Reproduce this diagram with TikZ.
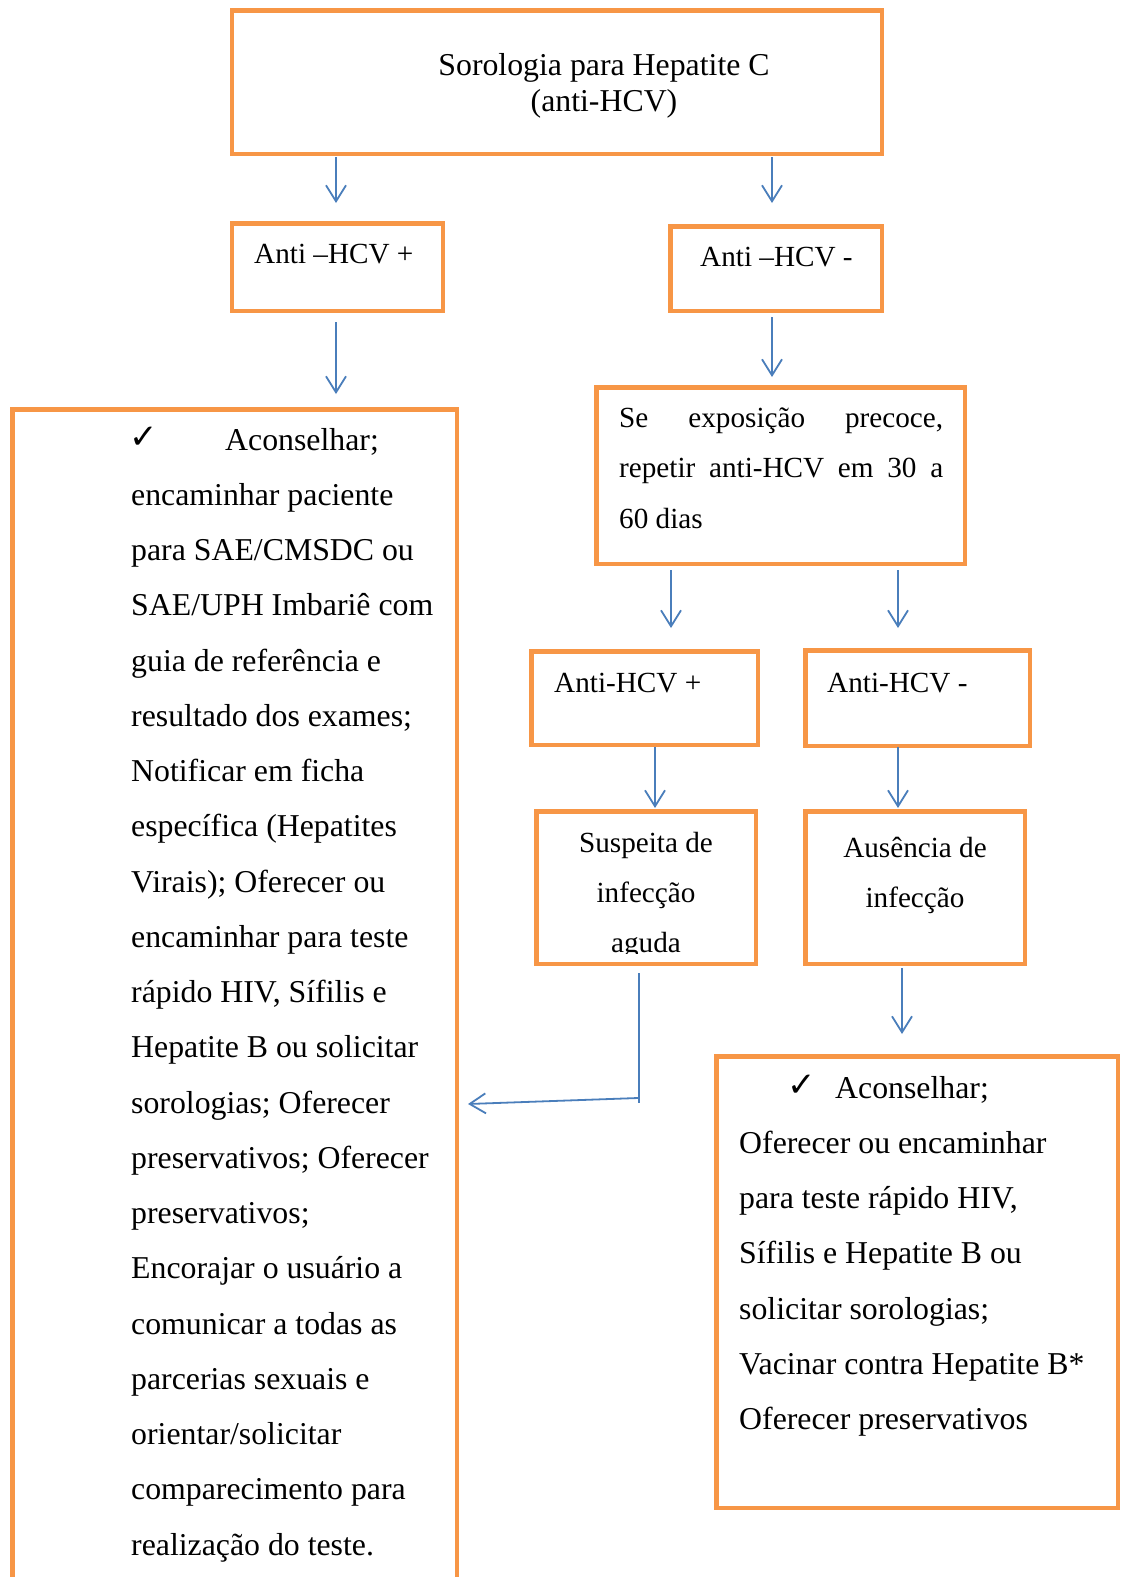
\documentclass[tikz,border=0pt]{standalone}
\usepackage{fontspec}
\setmainfont{Liberation Serif}
\newfontfamily\checkfont{DejaVu Sans}
\usetikzlibrary{arrows.meta}
\definecolor{boxorange}{RGB}{247,150,70}
\definecolor{arrowblue}{RGB}{74,126,187}

\begin{document}
\begin{tikzpicture}[x=1pt,y=-1pt,
  box/.style={draw=boxorange, line width=4.5pt, rectangle, inner sep=0pt, outer sep=0pt},
  txt/.style={anchor=base west, inner sep=0pt, font=\fontsize{31.8}{38}\selectfont},
  ctxt/.style={anchor=base, inner sep=0pt, font=\fontsize{31.8}{38}\selectfont},
  stxt/.style={anchor=base west, inner sep=0pt, font=\fontsize{29.2}{35}\selectfont},
  sctxt/.style={anchor=base, inner sep=0pt, font=\fontsize{29.2}{35}\selectfont},
  chk/.style={anchor=base west, inner sep=0pt, font=\checkfont\fontsize{34}{40}\selectfont},
  arr/.style={draw=arrowblue, line width=1.8pt, -{Straight Barb[length=16pt,width=20pt]}},
  link/.style={draw=arrowblue, line width=1.3pt},
]
\useasboundingbox (0,0) rectangle (1120,1577);
\clip (0,0) rectangle (1120,1577);
\fill[white] (0,0) rectangle (1120,1577);

% boxes
\node[box, minimum width=650pt, minimum height=143.5pt] (top) at (556.75,82) {};
\node[box, minimum width=211pt, minimum height=87.5pt] (pos) at (337.25,267) {};
\node[box, minimum width=211.5pt, minimum height=84.5pt] (neg) at (776,268.5) {};
\node[box, minimum width=444.5pt, minimum height=1210pt] (left) at (234.5,1014.25) {};
\node[box, minimum width=368.5pt, minimum height=176.5pt] (expo) at (780.5,475.5) {};
\node[box, minimum width=226.5pt, minimum height=93.5pt] (pos2) at (644.5,698) {};
\node[box, minimum width=224.5pt, minimum height=95.5pt] (neg2) at (917.5,698) {};
\node[box, minimum width=219.5pt, minimum height=152.5pt] (acute) at (646,887.5) {};
\node[box, minimum width=219.5pt, minimum height=152.5pt] (none) at (915,887.5) {};
\node[box, minimum width=401.5pt, minimum height=451.5pt] (right) at (917,1282) {};

% texts
\node[ctxt] (t1) at (604,75) {Sorologia para Hepatite C};
\node[ctxt] (t2) at (604,111) {(anti-HCV)};
\node[stxt] (tpos) at (254,263) {Anti –HCV +};
\node[stxt] (tneg) at (700,266) {Anti –HCV -};
\node[stxt] (e1) at (619,427) {\makebox[324pt][s]{Se exposição precoce,}};
\node[stxt] (e2) at (619,477) {\makebox[324pt][s]{repetir anti-HCV em 30 a}};
\node[stxt] (e3) at (619,528) {60 dias};
\node[stxt] (tpos2) at (554,692) {Anti-HCV +};
\node[stxt] (tneg2) at (827,692) {Anti-HCV -};
\begin{scope}
  \clip (536,811) rectangle (756,953);
  \node[sctxt] (a1) at (646,852) {Suspeita de};
  \node[sctxt] (a2) at (646,902) {infecção};
  \node[sctxt] (a3) at (646,952) {aguda};
\end{scope}
\node[sctxt] (n1) at (915,857) {Ausência de};
\node[sctxt] (n2) at (915,907) {infecção};

% left list
\node[chk] (lc) at (129,448) {✓};
\node[txt] (l0) at (225,450) {Aconselhar;};
\foreach \t [count=\i] in {{encaminhar paciente},{para SAE/CMSDC ou},{SAE/UPH Imbariê com},
  {guia de referência e},{resultado dos exames;},{Notificar em ficha},
  {específica (Hepatites},{Virais); Oferecer ou},{encaminhar para teste},
  {rápido HIV, Sífilis e},{Hepatite B ou solicitar},{sorologias; Oferecer},
  {preservativos; Oferecer},{preservativos;},{Encorajar o usuário a},
  {comunicar a todas as},{parcerias sexuais e},{orientar/solicitar},
  {comparecimento para},{realização do teste.}}
  \node[txt] (l\i) at (131,{450+\i*55.25}) {\t};

% right list
\node[chk] (rc) at (787,1096) {✓};
\node[txt] (r0) at (835,1098) {Aconselhar;};
\foreach \t [count=\i] in {{Oferecer ou encaminhar},{para teste rápido HIV,},
  {Sífilis e Hepatite B ou},{solicitar sorologias;},{Vacinar contra Hepatite B*},
  {Oferecer preservativos}}
  \node[txt] (r\i) at (739,{1098+\i*55.25}) {\t};

% connector end points
\coordinate (c1a) at (336,157);  \coordinate (c1b) at (336,203);
\coordinate (c2a) at (772,157);  \coordinate (c2b) at (772,203);
\coordinate (c3a) at (336,322);  \coordinate (c3b) at (336,394);
\coordinate (c4a) at (772,317);  \coordinate (c4b) at (772,377);
\coordinate (c5a) at (671,570);  \coordinate (c5b) at (671,628);
\coordinate (c6a) at (898,570);  \coordinate (c6b) at (898,628);
\coordinate (c7a) at (655,747);  \coordinate (c7b) at (655,808);
\coordinate (c8a) at (898,747);  \coordinate (c8b) at (898,808);
\coordinate (c9a) at (902,968);  \coordinate (c9b) at (902,1034);
\coordinate (k1) at (639,973);   \coordinate (k2) at (639,1103);
\coordinate (k3) at (638,1098);  \coordinate (k4) at (468,1104);

% connectors
\draw[arr] (c1a) -- (c1b);
\draw[arr] (c2a) -- (c2b);
\draw[arr] (c3a) -- (c3b);
\draw[arr] (c4a) -- (c4b);
\draw[arr] (c5a) -- (c5b);
\draw[arr] (c6a) -- (c6b);
\draw[arr] (c7a) -- (c7b);
\draw[arr] (c8a) -- (c8b);
\draw[arr] (c9a) -- (c9b);
\draw[link] (k1) -- (k2);
\draw[arr] (k3) -- (k4);
\end{tikzpicture}
\end{document}
